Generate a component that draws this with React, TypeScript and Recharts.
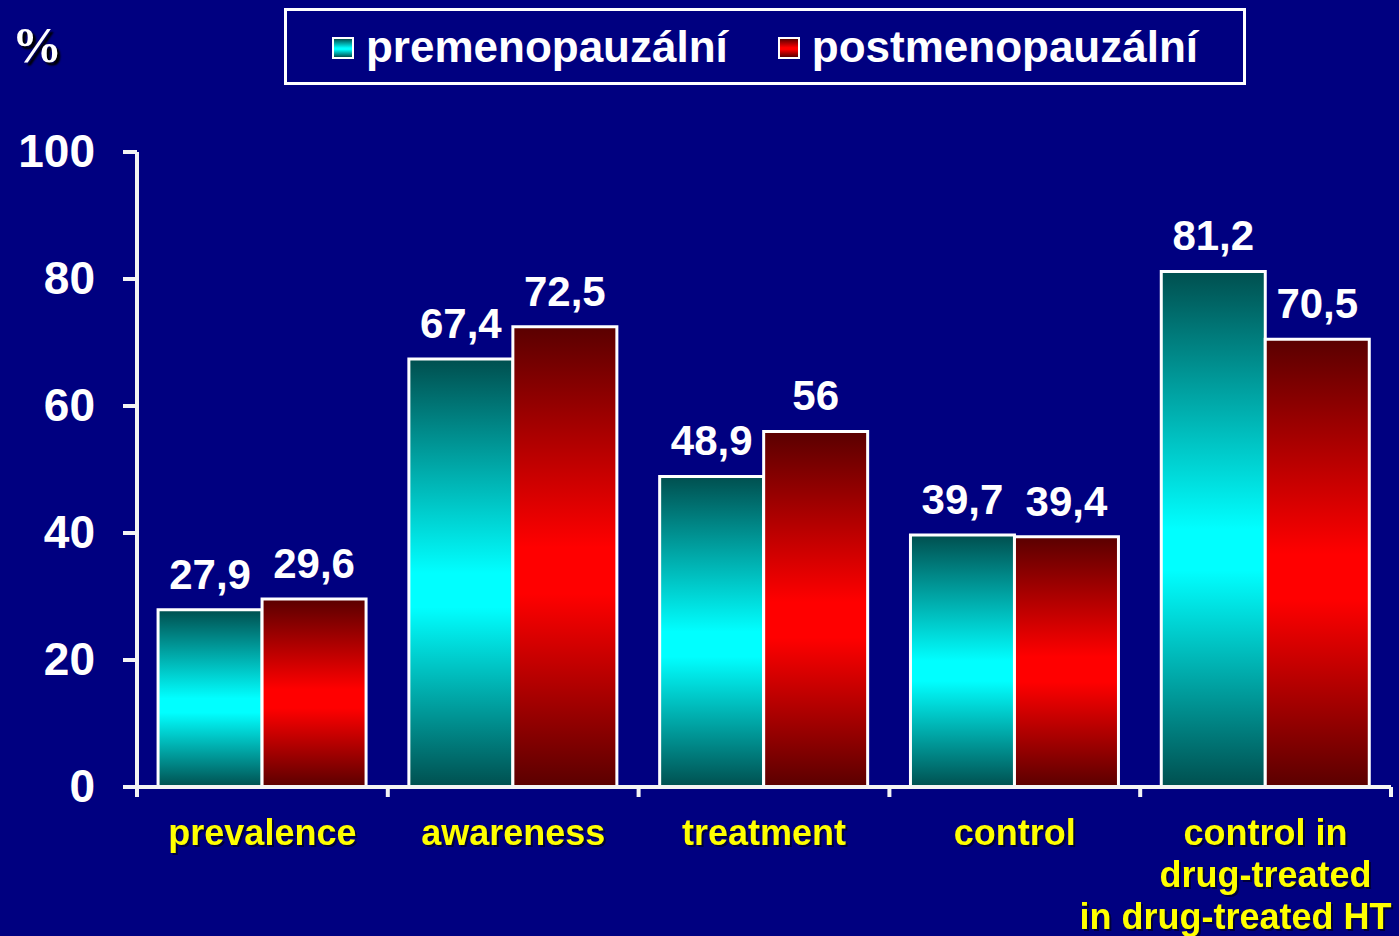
import React from 'react';
import { BarChart, Bar, XAxis, YAxis, LabelList } from 'recharts';

const categories = ['prevalence', 'awareness', 'treatment', 'control', 'control in\ndrug-treated\nin drug-treated HT'];
const premenopauzalni = [27.9, 67.4, 48.9, 39.7, 81.2];
const postmenopauzalni = [29.6, 72.5, 56, 39.4, 70.5];
const yTicks = [0, 20, 40, 60, 80, 100];
const seriesNames = ['premenopauzální', 'postmenopauzální'];

const data = categories.map((c, i) => ({
  category: c,
  pre: premenopauzalni[i],
  post: postmenopauzalni[i],
}));

const FONT = '"Liberation Sans", Arial, sans-serif';
const BG = '#000080';
const AXIS = '#f4f4f4';

const tealGrad = 'linear-gradient(to bottom, #004f4f 0%, #00ffff 50%, #00ffff 58%, #004f4f 100%)';
const redGrad = 'linear-gradient(to bottom, #5a0000 0%, #ff0000 48%, #ff0000 58%, #5a0000 100%)';

const fmt = (v: any) => String(v).replace('.', ',');

const XTick = (props: any) => {
  const { x, y, payload, index, visibleTicksCount, width } = props;
  const lines = String(payload.value).split('\n');
  const w = Number(width);
  const n = Number(visibleTicksCount) || 5;
  const half = isFinite(w) && w > 0 ? w / n / 2 : 0;
  return (
    <g>
      {half > 0 && (
        <line x1={x - half} x2={x - half} y1={y} y2={y + 10} stroke={AXIS} strokeWidth={4} />
      )}
      {half > 0 && index === n - 1 && (
        <line x1={x + half} x2={x + half} y1={y} y2={y + 10} stroke={AXIS} strokeWidth={4} />
      )}
      <g style={{ filter: 'drop-shadow(2px 2px 0px rgba(0,0,0,0.55))' }}>
        {lines.map((ln, i) => (
          <text
            key={i}
            x={x}
            y={y + 58 + i * 42}
            dx={i === 2 ? -30 : 0}
            textAnchor="middle"
            fill="#ffff00"
            fontFamily={FONT}
            fontWeight="bold"
            fontSize={36}
          >
            {ln}
          </text>
        ))}
      </g>
    </g>
  );
};

const LegendBox = () => (
  <div
    style={{
      position: 'absolute',
      left: 284,
      top: 8,
      boxSizing: 'border-box',
      width: 962,
      height: 77,
      border: '3px solid #ffffff',
      display: 'flex',
      alignItems: 'center',
      justifyContent: 'center',
      fontFamily: FONT,
      fontWeight: 'bold',
      fontSize: 44,
      color: '#ffffff',
      zIndex: 2,
    }}
  >
    {seriesNames.map((n, i) => (
      <div key={n} style={{ display: 'flex', alignItems: 'center', marginLeft: i === 0 ? 0 : 50 }}>
        <div
          style={{
            width: 18,
            height: 18,
            border: '2px solid #ffffff',
            background: i === 0 ? tealGrad : redGrad,
            marginRight: 12,
            marginTop: 2,
          }}
        />
        <span style={{ lineHeight: '44px' }}>{n}</span>
      </div>
    ))}
  </div>
);

export default function App() {
  return (
    <div style={{ position: 'absolute', left: 0, top: 0, width: 1399, height: 936, background: BG, overflow: 'hidden' }}>
      <div
        style={{
          position: 'absolute',
          left: 12,
          top: 16,
          fontFamily: '"Liberation Serif", "Times New Roman", serif',
          fontWeight: 'bold',
          fontSize: 50,
          color: '#ffffff',
          textShadow: '3px 3px 2px #000000',
          zIndex: 2,
        }}
      >
        %
      </div>
      <LegendBox />
      <BarChart
        width={1399}
        height={936}
        data={data}
        margin={{ top: 152, right: 8, left: 0, bottom: 0 }}
        barCategoryGap="8.4%"
        barGap={0}
      >
        <defs>
          <linearGradient id="gTeal" x1="0" y1="0" x2="0" y2="1">
            <stop offset="0%" stopColor="#004f4f" />
            <stop offset="50%" stopColor="#00ffff" />
            <stop offset="58%" stopColor="#00ffff" />
            <stop offset="100%" stopColor="#004f4f" />
          </linearGradient>
          <linearGradient id="gRed" x1="0" y1="0" x2="0" y2="1">
            <stop offset="0%" stopColor="#5a0000" />
            <stop offset="48%" stopColor="#ff0000" />
            <stop offset="58%" stopColor="#ff0000" />
            <stop offset="100%" stopColor="#5a0000" />
          </linearGradient>
        </defs>
        <XAxis
          dataKey="category"
          height={149}
          axisLine={{ stroke: AXIS, strokeWidth: 4 }}
          tickLine={false}
          tickSize={0}
          tickMargin={0}
          interval={0}
          tick={<XTick />}
        />
        <YAxis
          domain={[0, 100]}
          ticks={yTicks}
          width={137}
          tickSize={14}
          tickMargin={28}
          axisLine={{ stroke: AXIS, strokeWidth: 4 }}
          tickLine={{ stroke: AXIS, strokeWidth: 4 }}
          tick={{ fill: '#ffffff', fontFamily: FONT, fontWeight: 'bold', fontSize: 46, dy: -1 }}
        />
        <Bar
          dataKey="pre"
          name={seriesNames[0]}
          fill="url(#gTeal)"
          stroke="#ffffff"
          strokeWidth={3}
          isAnimationActive={false}
        >
          <LabelList
            dataKey="pre"
            position="top"
            offset={21}
            formatter={fmt}
            fill="#ffffff"
            fontFamily={FONT}
            fontWeight="bold"
            fontSize={42}
          />
        </Bar>
        <Bar
          dataKey="post"
          name={seriesNames[1]}
          fill="url(#gRed)"
          stroke="#ffffff"
          strokeWidth={3}
          isAnimationActive={false}
        >
          <LabelList
            dataKey="post"
            position="top"
            offset={21}
            formatter={fmt}
            fill="#ffffff"
            fontFamily={FONT}
            fontWeight="bold"
            fontSize={42}
          />
        </Bar>
      </BarChart>
    </div>
  );
}
